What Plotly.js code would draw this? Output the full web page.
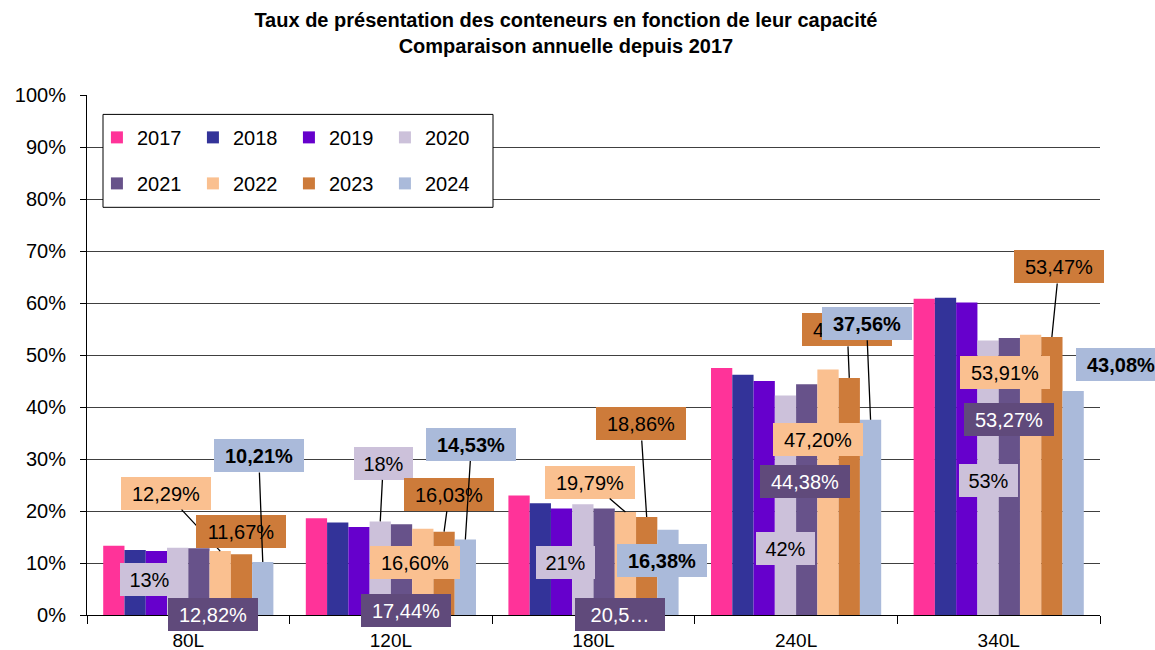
<!DOCTYPE html>
<html><head><meta charset="utf-8">
<script src="https://cdn.plot.ly/plotly-3.0.1.min.js"></script>
<style>html,body{margin:0;padding:0;background:#fff}#chart{width:1155px;height:650px}</style>
</head><body><div id="chart"></div>
<script>
// ---- data ----
const categories = ['80L', '120L', '180L', '240L', '340L'];
const years = ['2017', '2018', '2019', '2020', '2021', '2022', '2023', '2024'];
const v2017 = [13.3, 18.6, 23.0, 47.5, 60.8];
const v2018 = [12.5, 17.8, 21.5, 46.2, 61.0];
const v2019 = [12.3, 16.9, 20.5, 45.0, 60.1];
const v2020 = [12.95, 18.0, 21.3, 42.2, 52.8];
const v2021 = [12.82, 17.44, 20.5, 44.38, 53.27];
const v2022 = [12.29, 16.60, 19.79, 47.20, 53.91];
const v2023 = [11.67, 16.03, 18.86, 45.60, 53.47];
const v2024 = [10.21, 14.53, 16.38, 37.56, 43.08];
const labels2020 = ['13%', '18%', '21%', '42%', '53%'];
const labels2021 = ['12,82%', '17,44%', '20,5…', '44,38%', '53,27%'];
const labels2022 = ['12,29%', '16,60%', '19,79%', '47,20%', '53,91%'];
const labels2023 = ['11,67%', '16,03%', '18,86%', '45,60%', '53,47%'];
const labels2024 = ['10,21%', '14,53%', '16,38%', '37,56%', '43,08%'];

// ---- styles ----
const values = [v2017, v2018, v2019, v2020, v2021, v2022, v2023, v2024];
const colors = ['#FF3399', '#333399', '#6600CC', '#CCC1DA', '#67528A', '#FAC090', '#CD7B3A', '#AABADA'];
const FONT = 'Liberation Sans, Arial, sans-serif';
const BARGAP = 0.16;

const traces = years.map((yr, i) => ({
  type: 'bar', name: yr, x: categories, y: values[i],
  marker: {color: colors[i], line: {width: 0}},
  legend: i < 4 ? 'legend' : 'legend2',
  hoverinfo: 'skip'
}));

// label placement: [dx, dy (px, from bar top to label centre), leader line?]
const labelSeries = [
  {s: 3, text: labels2020, bg: '#CCC1DA', fc: '#000', bold: false, w: 53,
   pos: [[-28, 32, 0], [3, -58, 1], [-17, 58, 0], [0, 153, 0], [0, 140, 0]]},
  {s: 4, text: labels2021, bg: '#604A7B', fc: '#fff', bold: false, w: 84,
   pos: [[14, 66, 0], [4, 86, 0], [16, 106, 0], [-2, 97, 0], [0, 81, 0]]},
  {s: 5, text: labels2022, bg: '#FAC090', fc: '#000', bold: false, w: 84,
   pos: [[-54, -58, 1], [-8, 34, 0], [-35, -30, 1], [-10, 70, 0], [-26, 38, 0]]},
  {s: 6, text: labels2023, bg: '#CD7B3A', fc: '#000', bold: false, w: 84,
   pos: [[0, -23, 0], [5, -37, 1], [-6, -93, 1], [-2, -48, 1], [7, -70, 1]]},
  {s: 7, text: labels2024, bg: '#AABADA', fc: '#000', bold: true, w: 84,
   pos: [[-4, -106, 1], [6, -95, 1], [-6, 31, 0], [-4, -96, 1], [48, -26, 0]]}
];
const barW = (1 - BARGAP) / years.length;
const annotations = [];
labelSeries.forEach(ls => {
  categories.forEach((c, ci) => {
    const [dx, dy, lead] = ls.pos[ci];
    const xv = ci + (ls.s - (years.length - 1) / 2) * barW;
    const yv = values[ls.s][ci];
    const a = {
      x: xv, y: yv, xref: 'x', yref: 'y',
      text: ls.text[ci],
      font: {family: FONT, size: 20, color: ls.fc, weight: ls.bold ? 'bold' : 'normal'},
      bgcolor: ls.bg, borderwidth: 0, borderpad: 3,
      width: ls.w, height: 27, align: 'center', valign: 'middle'
    };
    if (lead) {
      Object.assign(a, {showarrow: true, arrowhead: 0, arrowwidth: 1.3, arrowcolor: '#000',
        standoff: 0, startstandoff: 0, ax: dx, ay: dy, axref: 'pixel', ayref: 'pixel'});
    } else {
      Object.assign(a, {showarrow: false, xanchor: 'center', yanchor: 'middle', xshift: dx, yshift: -dy});
    }
    annotations.push(a);
  });
});

const layout = {
  width: 1155, height: 650,
  paper_bgcolor: '#fff', plot_bgcolor: '#fff',
  margin: {l: 87, r: 55, t: 95, b: 35},
  font: {family: FONT, color: '#000'},
  barmode: 'group', bargap: BARGAP, bargroupgap: 0,
  title: {
    text: 'Taux de présentation des conteneurs en fonction de leur capacité<br>Comparaison annuelle depuis 2017',
    font: {family: FONT, size: 20, weight: 'bold', color: '#000'},
    x: 0.49, xref: 'container', xanchor: 'center',
    y: 0.958, yref: 'container', yanchor: 'top'
  },
  xaxis: {
    type: 'category', range: [-0.5, categories.length - 0.5], autorange: false,
    showline: true, linecolor: '#000', linewidth: 1,
    ticks: 'outside', tickson: 'boundaries', ticklen: 8, tickcolor: '#000', ticklabelstandoff: 8,
    tickfont: {family: FONT, size: 19, color: '#000'}, showgrid: false
  },
  yaxis: {
    range: [0, 100], autorange: false, dtick: 10, ticksuffix: '%',
    showline: true, linecolor: '#000', linewidth: 1,
    ticks: 'outside', ticklen: 6, tickcolor: '#000', ticklabelstandoff: 10,
    gridcolor: '#404040', gridwidth: 1, zeroline: false,
    tickfont: {family: FONT, size: 20, color: '#000'}
  },
  showlegend: true,
  legend: {
    orientation: 'h', x: 0.0098, xanchor: 'left', y: 0.9185, yanchor: 'middle',
    bgcolor: 'rgba(0,0,0,0)', borderwidth: 0, entrywidth: 51, entrywidthmode: 'pixels',
    font: {family: FONT, size: 20, color: '#000'}, traceorder: 'normal'
  },
  legend2: {
    orientation: 'h', x: 0.0098, xanchor: 'left', y: 0.830, yanchor: 'middle',
    bgcolor: 'rgba(0,0,0,0)', borderwidth: 0, entrywidth: 51, entrywidthmode: 'pixels',
    font: {family: FONT, size: 20, color: '#000'}, traceorder: 'normal'
  },
  shapes: [{
    type: 'rect', xref: 'paper', yref: 'paper', layer: 'above',
    x0: 0.0158, x1: 0.4008, y0: 0.784, y1: 0.9627,
    line: {color: '#000', width: 1}, fillcolor: '#fff'
  }],
  annotations: annotations
};

Plotly.newPlot('chart', traces, layout, {displayModeBar: false, staticPlot: true});
</script>
</body></html>
